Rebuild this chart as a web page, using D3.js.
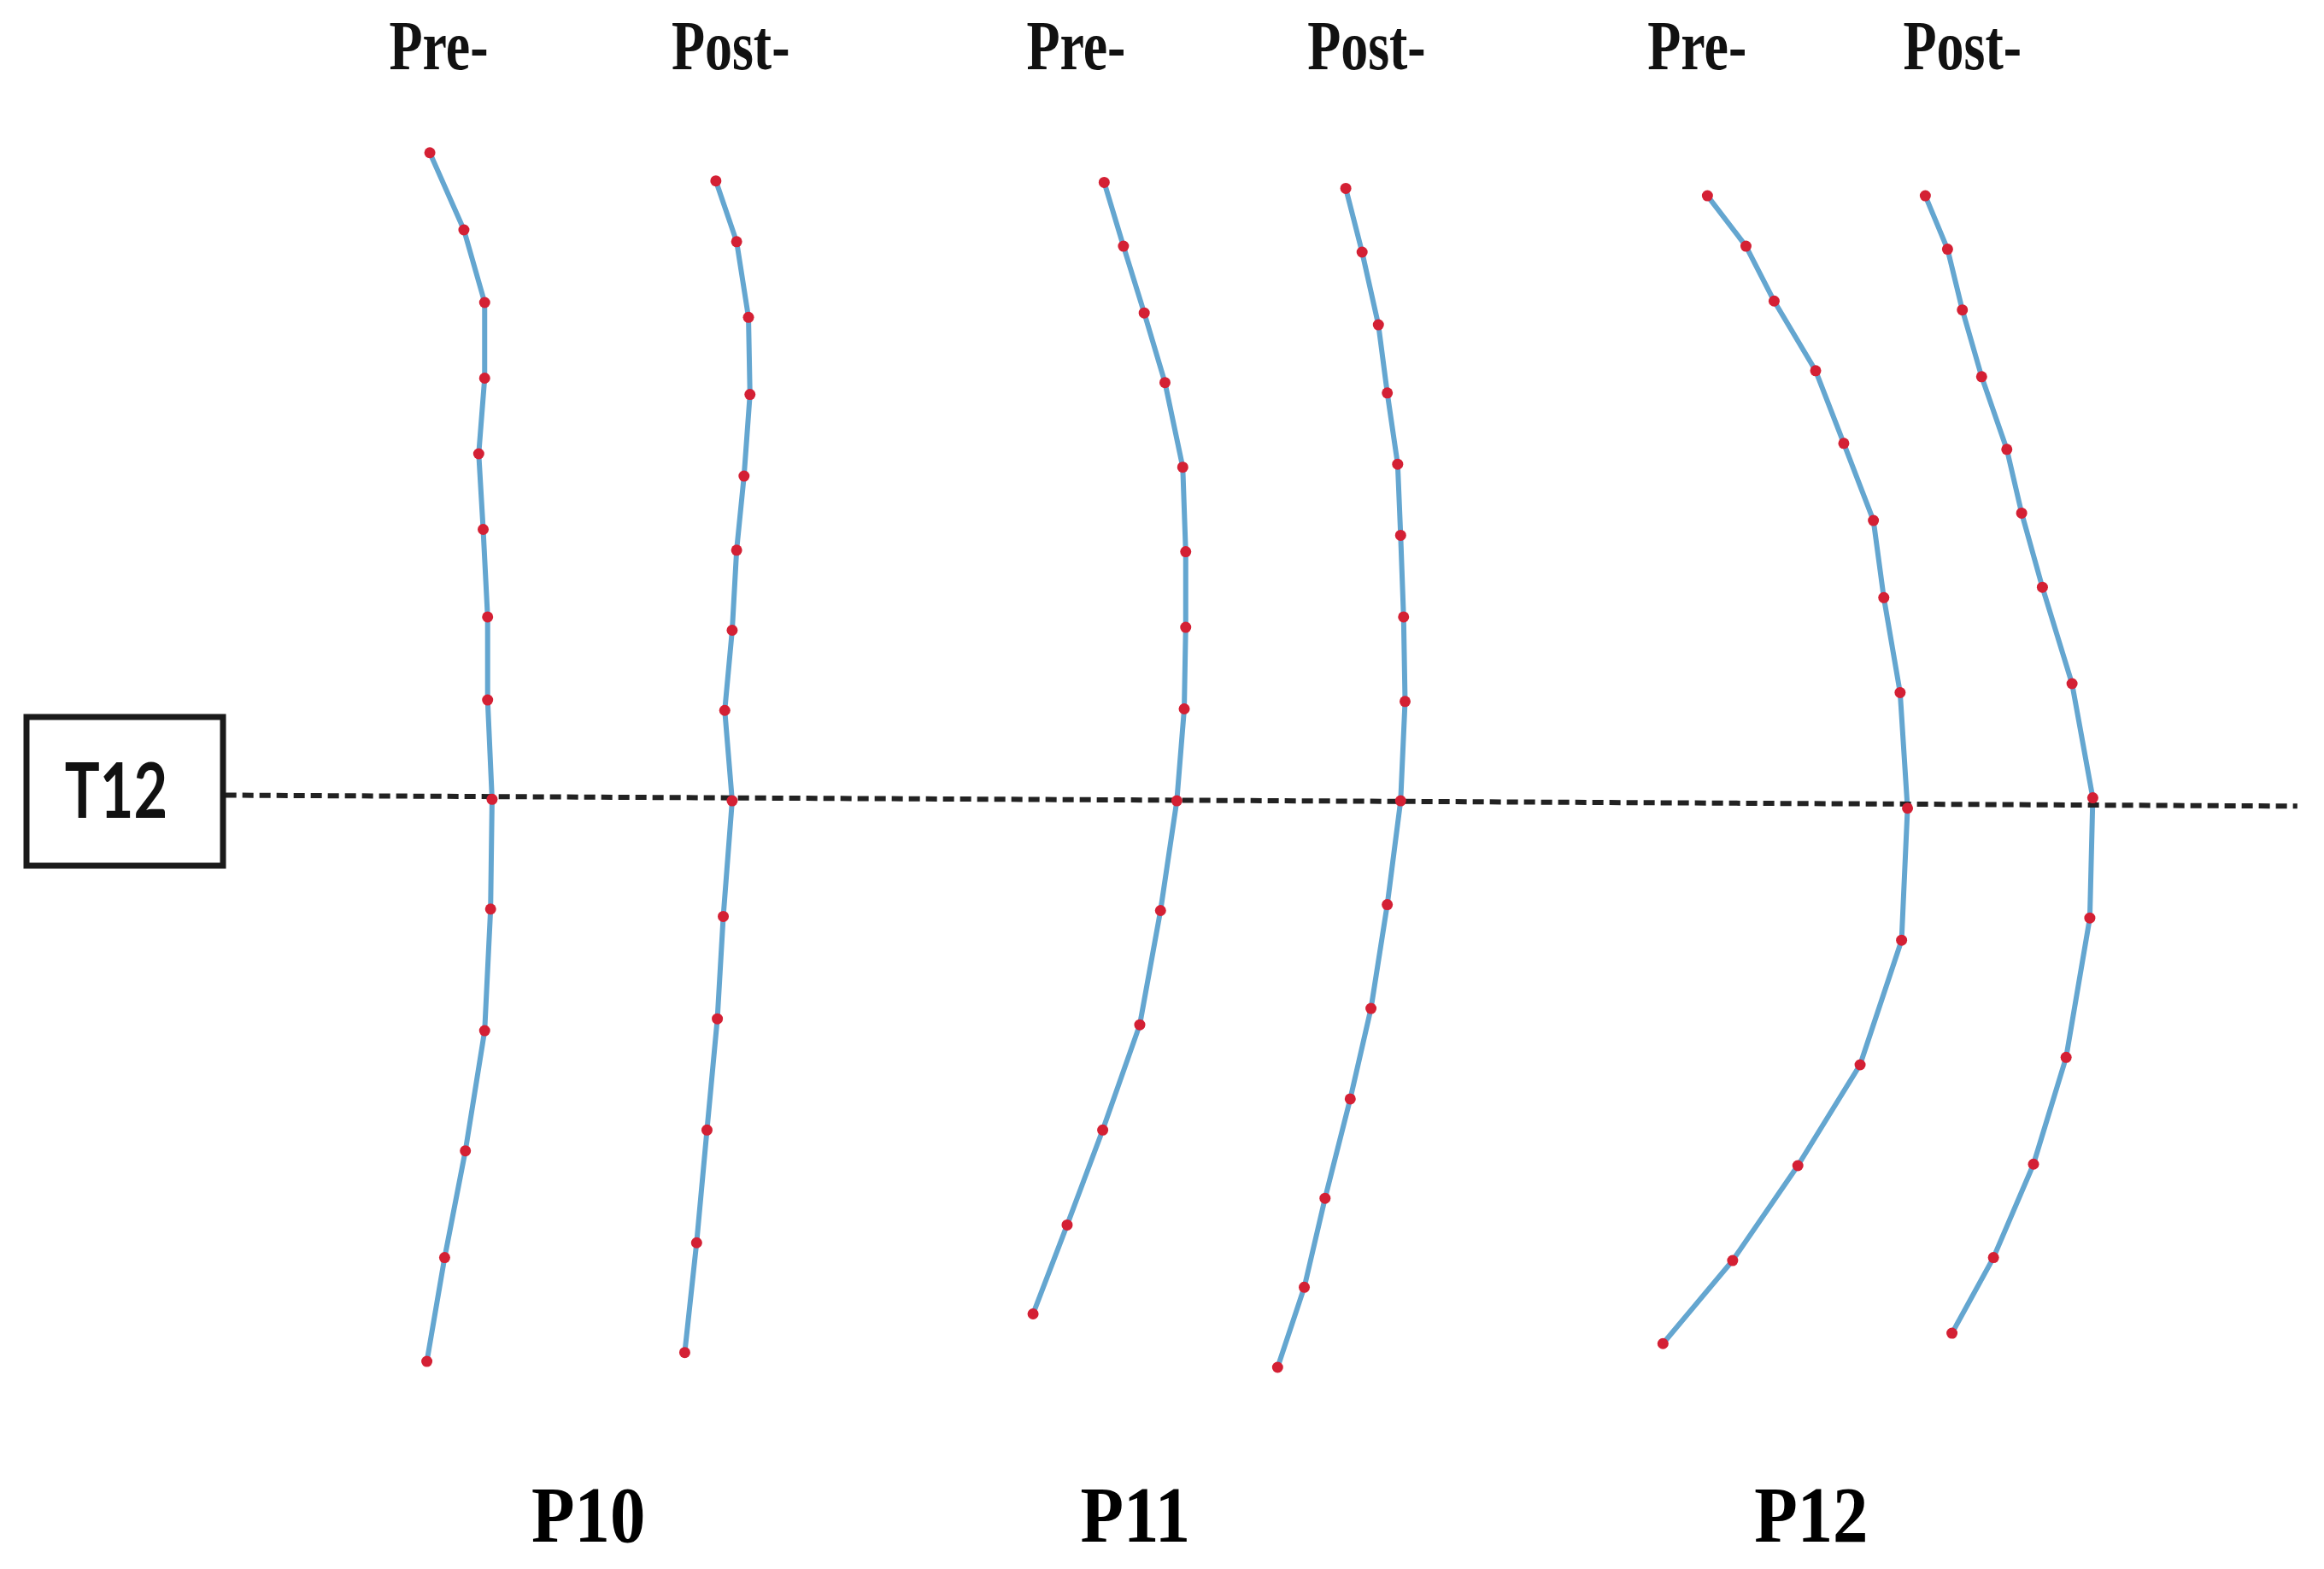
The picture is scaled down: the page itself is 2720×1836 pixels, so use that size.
<!DOCTYPE html>
<html>
<head>
<meta charset="utf-8">
<script src="https://cdn.jsdelivr.net/npm/d3@7/dist/d3.min.js"></script>
<style>
  html, body { margin: 0; padding: 0; background: #ffffff; }
  svg { display: block; }
</style>
</head>
<body>
<script>
// ---------- DATA (in figure units of a 1568 x 1058 frame) ----------
const patients = ["P10", "P11", "P12"];
const phases = ["Pre-", "Post-"];
const levelLabel = "T12";

const p10PreX  = [290, 313, 327, 327, 323, 326, 329, 329, 332, 331, 327, 314, 300, 288];
const p10PreY  = [103, 155, 204, 255, 306, 357, 416, 472, 539, 613, 695, 776, 848, 918];
const p10PostX = [483, 497, 505, 506, 502, 497, 494, 489, 494, 488, 484, 477, 470, 462];
const p10PostY = [122, 163, 214, 266, 321, 371, 425, 479, 540, 618, 687, 762, 838, 912];

const p11PreX  = [745, 758, 772, 786, 798, 800, 800, 799, 794, 783, 769, 744, 720, 697];
const p11PreY  = [123, 166, 211, 258, 315, 372, 423, 478, 540, 614, 691, 762, 826, 886];
const p11PostX = [908, 919, 930, 936, 943, 945, 947, 948, 945, 936, 925, 911, 894, 880, 862];
const p11PostY = [127, 170, 219, 265, 313, 361, 416, 473, 540, 610, 680, 741, 808, 868, 922];

const p12PreX  = [1152, 1178, 1197, 1225, 1244, 1264, 1271, 1282, 1287, 1283, 1255, 1213, 1169, 1122];
const p12PreY  = [132, 166, 203, 250, 299, 351, 403, 467, 545, 634, 718, 786, 850, 906];
const p12PostX = [1299, 1314, 1324, 1337, 1354, 1364, 1378, 1398, 1412, 1410, 1394, 1372, 1345, 1317];
const p12PostY = [132, 168, 209, 254, 303, 346, 396, 461, 538, 619, 713, 785, 848, 899];

// T12 reference level (slightly tilted in the source)
const t12X = [152, 1550];
const t12Y = [536.2, 543.6];

// ---------- LAYOUT ----------
const W = 2720, H = 1836;
const sx = d3.scaleLinear().domain([0, 1568]).range([0, W]);
const sy = d3.scaleLinear().domain([0, 1058]).range([0, H]);

const curves = [
  { xs: p10PreX,  ys: p10PreY },
  { xs: p10PostX, ys: p10PostY },
  { xs: p11PreX,  ys: p11PreY },
  { xs: p11PostX, ys: p11PostY },
  { xs: p12PreX,  ys: p12PreY },
  { xs: p12PostX, ys: p12PostY }
].map(c => c.xs.map((x, i) => ({ x: x, y: c.ys[i] })));

const phaseLabelX = [296, 493, 726, 922, 1145, 1324];   // label centres (figure units)
const patientLabelX = [397, 766, 1222];

const svg = d3.select("body").append("svg")
  .attr("width", W).attr("height", H)
  .attr("viewBox", `0 0 ${W} ${H}`);

svg.append("rect").attr("width", W).attr("height", H).attr("fill", "#ffffff");

const line = d3.line().x(d => sx(d.x)).y(d => sy(d.y));

// curves
svg.append("g").selectAll("path")
  .data(curves).join("path")
  .attr("d", line)
  .attr("fill", "none")
  .attr("stroke", "#64a6d0")
  .attr("stroke-width", 6)
  .attr("stroke-linejoin", "round")
  .attr("stroke-linecap", "round");

// T12 dashed level line
svg.append("line")
  .attr("x1", sx(t12X[0])).attr("y1", sy(t12Y[0]))
  .attr("x2", sx(t12X[1])).attr("y2", sy(t12Y[1]))
  .attr("stroke", "#222222")
  .attr("stroke-width", 6)
  .attr("stroke-dasharray", "13,7");

// points
svg.append("g").selectAll("g")
  .data(curves).join("g")
  .selectAll("circle")
  .data(d => d).join("circle")
  .attr("cx", d => sx(d.x))
  .attr("cy", d => sy(d.y))
  .attr("r", 6.5)
  .attr("fill", "#d42034");

// T12 box
svg.append("rect")
  .attr("x", 31).attr("y", 839)
  .attr("width", 230).attr("height", 174)
  .attr("fill", "#ffffff")
  .attr("stroke", "#1a1a1a")
  .attr("stroke-width", 7);

svg.append("text")
  .attr("transform", "translate(136,957) scale(0.76,1)")
  .attr("text-anchor", "middle")
  .attr("font-family", "Lato, 'Liberation Sans', sans-serif")
  .attr("font-weight", "bold")
  .attr("font-size", 90)
  .attr("fill", "#111")
  .text(levelLabel);

// Pre-/Post- labels
const topLabels = [];
patients.forEach(() => phases.forEach(p => topLabels.push(p)));
svg.append("g").selectAll("text")
  .data(topLabels).join("text")
  .attr("transform", (d, i) => `translate(${sx(phaseLabelX[i])},81) scale(0.78,1)`)
  .attr("text-anchor", "middle")
  .attr("font-family", "'Liberation Serif', 'Times New Roman', serif")
  .attr("font-weight", "bold")
  .attr("font-size", 82)
  .attr("fill", "#111")
  .text(d => d);

// patient labels
svg.append("g").selectAll("text")
  .data(patients).join("text")
  .attr("transform", (d, i) => `translate(${sx(patientLabelX[i])},1804) scale(0.88,1)`)
  .attr("text-anchor", "middle")
  .attr("font-family", "'Liberation Serif', 'Times New Roman', serif")
  .attr("font-weight", "bold")
  .attr("font-size", 94)
  .attr("fill", "#000")
  .text(d => d);
</script>
</body>
</html>
